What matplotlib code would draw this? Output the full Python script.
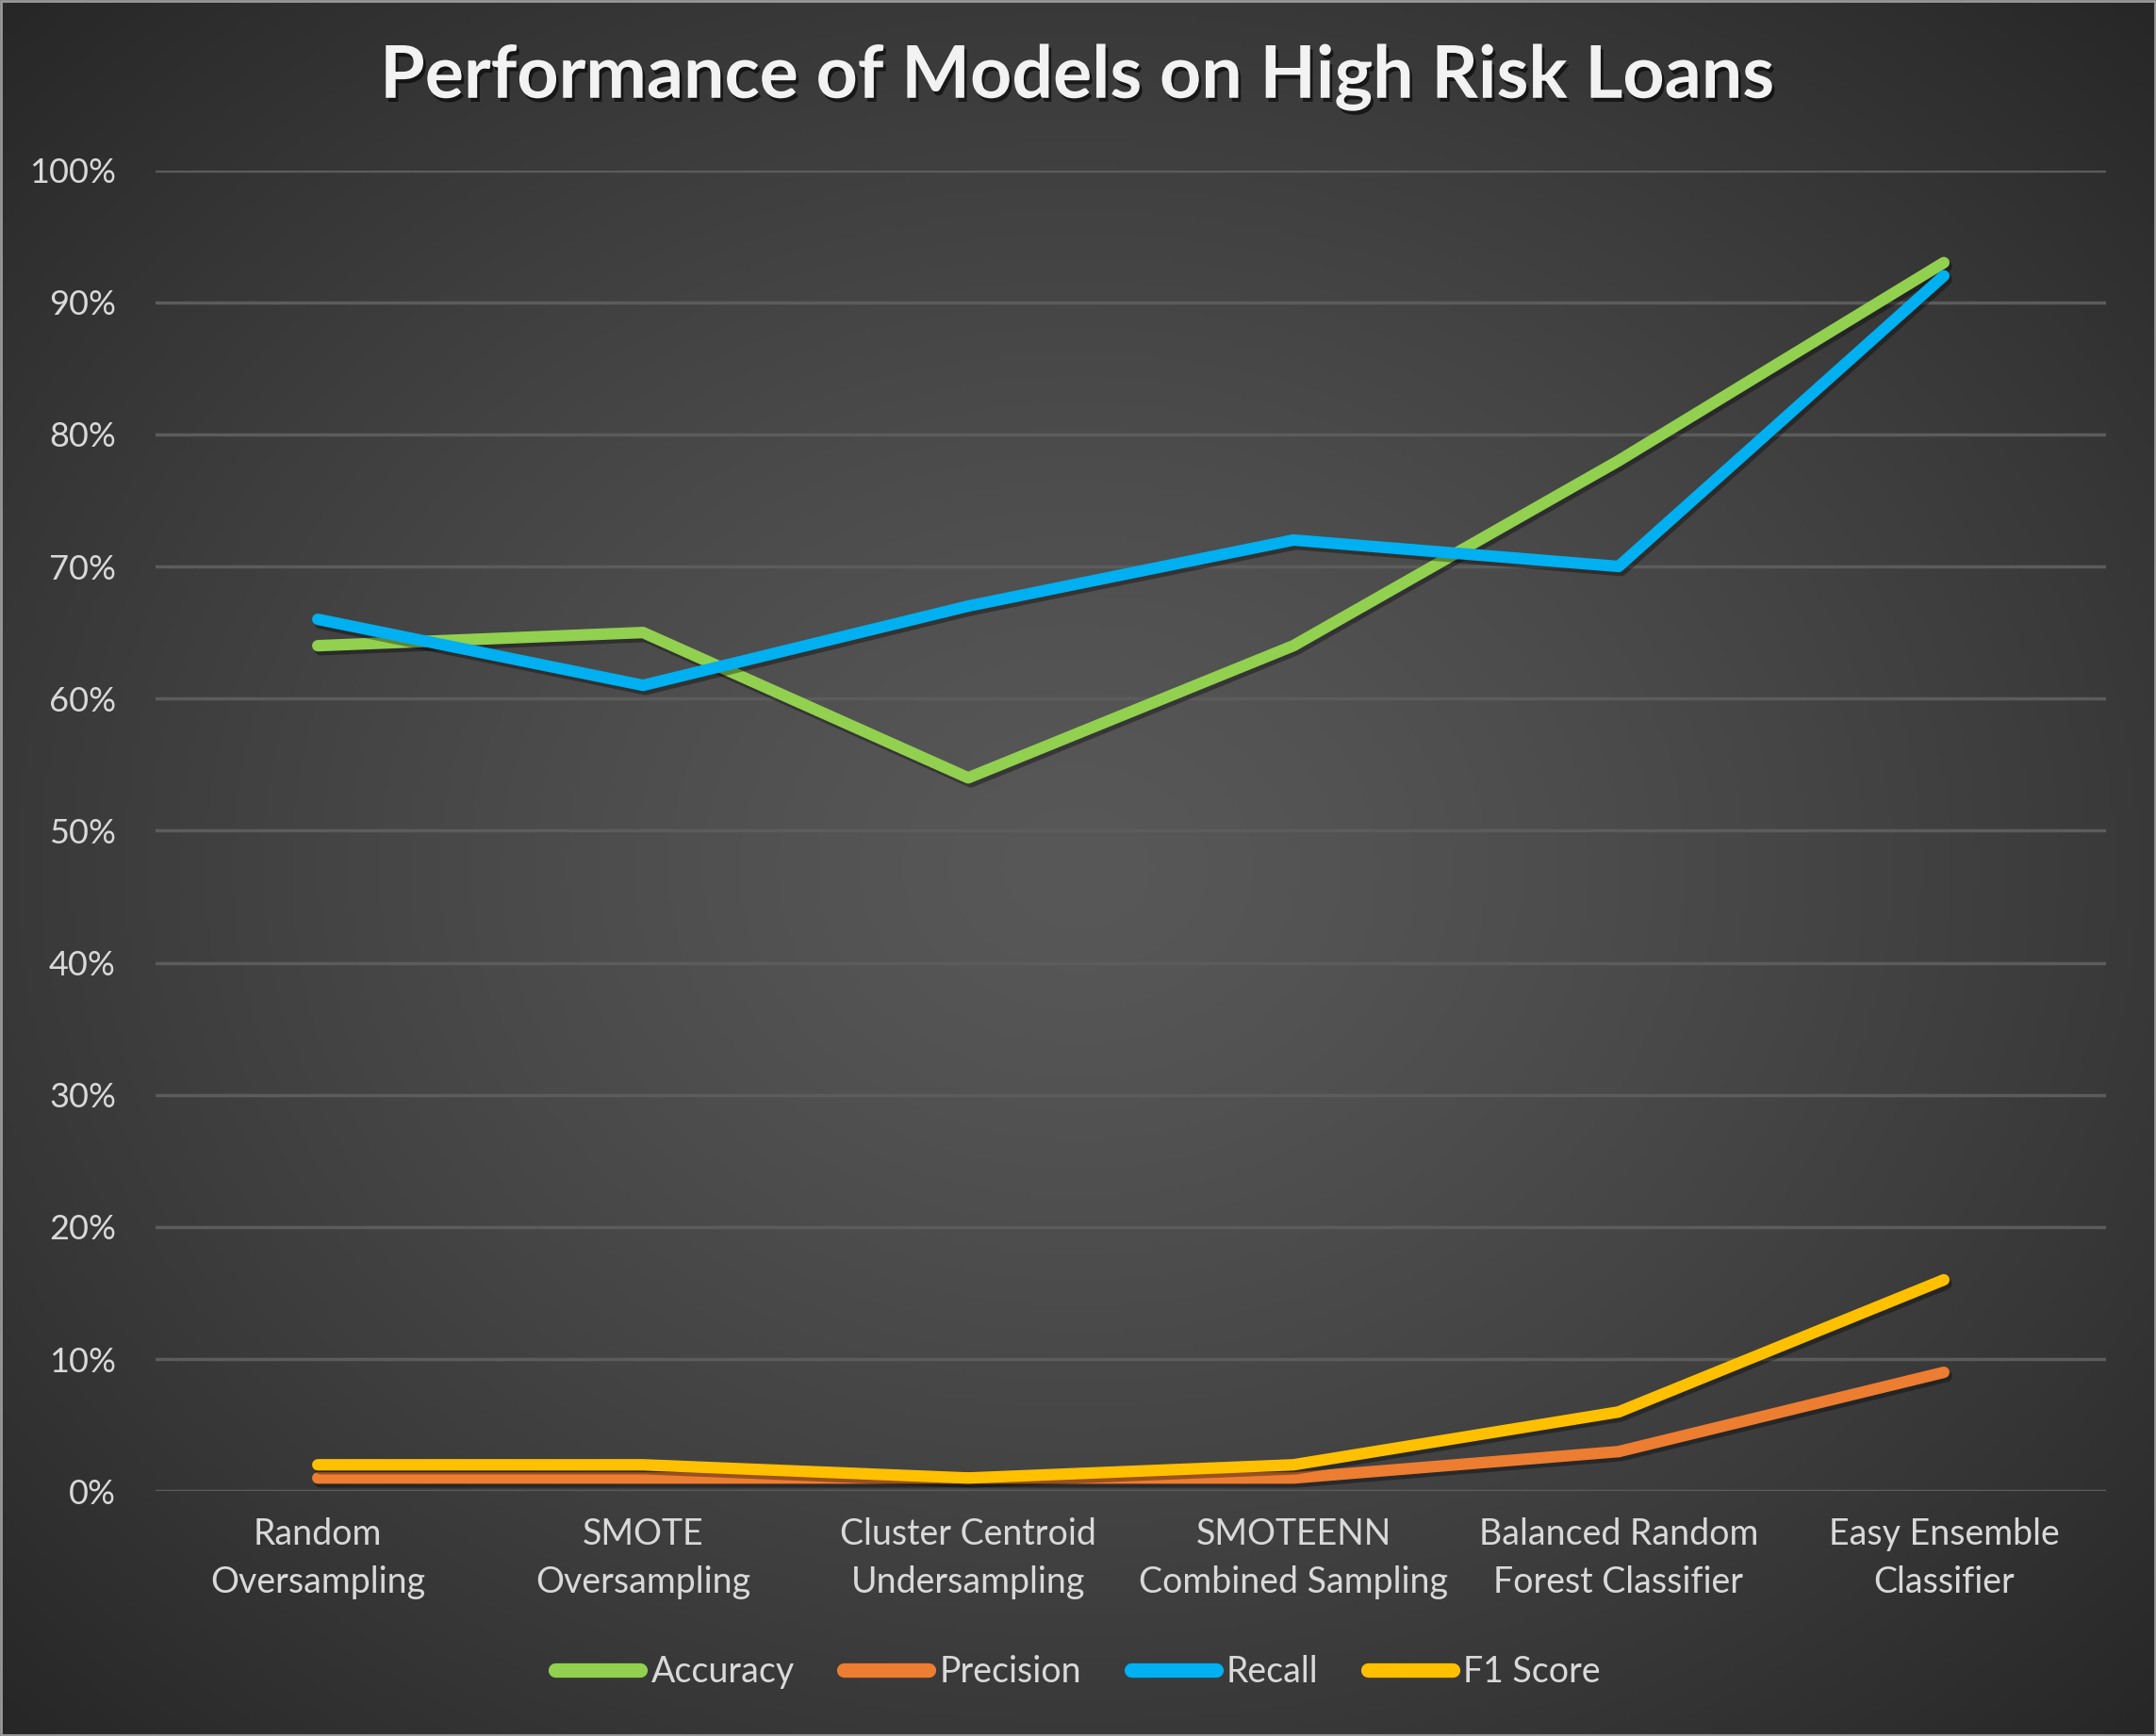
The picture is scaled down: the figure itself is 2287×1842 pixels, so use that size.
import numpy as np
import matplotlib
matplotlib.use("Agg")
import matplotlib.pyplot as plt
import matplotlib.patheffects as pe
from matplotlib.ticker import FuncFormatter

categories = ["Random\nOversampling", "SMOTE\nOversampling", "Cluster Centroid\nUndersampling",
              "SMOTEENN\nCombined Sampling", "Balanced Random\nForest Classifier", "Easy Ensemble\nClassifier"]
accuracy = [0.64, 0.65, 0.54, 0.64, 0.78, 0.93]
precision = [0.01, 0.01, 0.01, 0.01, 0.03, 0.09]
recall = [0.66, 0.61, 0.67, 0.72, 0.70, 0.92]
f1_score = [0.02, 0.02, 0.01, 0.02, 0.06, 0.16]
series_names = ["Accuracy", "Precision", "Recall", "F1 Score"]
series_colors = ["#92d050", "#ed7d31", "#00b0f0", "#ffc000"]

plt.rcParams['font.family'] = ['Lato', 'DejaVu Sans']

W, H = 2287, 1842
fig = plt.figure(figsize=(W / 100, H / 100), dpi=100)

# background radial gradient
bg = fig.add_axes([0, 0, 1, 1], zorder=-10)
yy, xx = np.mgrid[0:1:400j, 0:1:500j]
r = np.sqrt(((xx - 0.5) / 0.75) ** 2 + ((yy - 0.5) / 0.75) ** 2)
r = np.clip(r / 0.95, 0, 1)
c0, c1 = 0x58 / 255, 0x26 / 255
img = c0 + (c1 - c0) * r ** 1.3
bg.imshow(np.dstack([img, img, img]), extent=[0, 1, 0, 1], aspect='auto', origin='lower')
bg.set_xlim(0, 1)
bg.set_ylim(0, 1)
bg.axis('off')
bg.add_patch(plt.Rectangle((0.0005, 0.0005), 0.999, 0.999, fill=False, edgecolor="#9a9a9a", lw=2))

ax = fig.add_axes([0.072, 0.141, 0.905, 0.761])
ax.set_facecolor('none')
x = np.arange(len(categories))
data = [accuracy, precision, recall, f1_score]
for vals, name, col in zip(data, series_names, series_colors):
    ax.plot(x, vals, color=col, lw=8.8, label=name, solid_capstyle='round', solid_joinstyle='round',
            clip_on=False,
            path_effects=[pe.SimpleLineShadow(offset=(2, -3), shadow_color='black', alpha=0.35), pe.Normal()])

ax.set_xlim(-0.5, 5.5)
ax.set_ylim(0, 1)
ax.set_yticks(np.arange(0, 1.01, 0.1))
ax.yaxis.set_major_formatter(FuncFormatter(lambda v, p: f"{v * 100:.0f}%"))
ax.grid(axis='y', color='#5c5c5c', lw=2.5)
ax.set_axisbelow(True)
for s in ax.spines.values():
    s.set_visible(False)
ax.set_xticks(x)
ax.set_xticklabels(categories, linespacing=1.5)
ax.tick_params(axis='both', length=0, labelcolor='#d9d9d9')
ax.tick_params(axis='y', pad=30, labelsize=26)
ax.tick_params(axis='x', pad=20, labelsize=27)

fig.text(0.5, 0.955, "Performance of Models on High Risk Loans", ha='center', va='center',
         fontsize=55.5, fontweight='bold', color='#f2f2f2',
         path_effects=[pe.withSimplePatchShadow(offset=(2, -3), shadow_rgbFace='black', alpha=0.6)])

leg = fig.legend(loc='center', bbox_to_anchor=(0.5, 0.037), ncol=4, frameon=False,
                 fontsize=27, handlelength=2.4, handletextpad=0.3, columnspacing=1.4)
for t in leg.get_texts():
    t.set_color('#d9d9d9')
for h in leg.get_lines():
    h.set_linewidth(11)
    h.set_path_effects([pe.Normal()])

fig.savefig("out.png", dpi=100)
